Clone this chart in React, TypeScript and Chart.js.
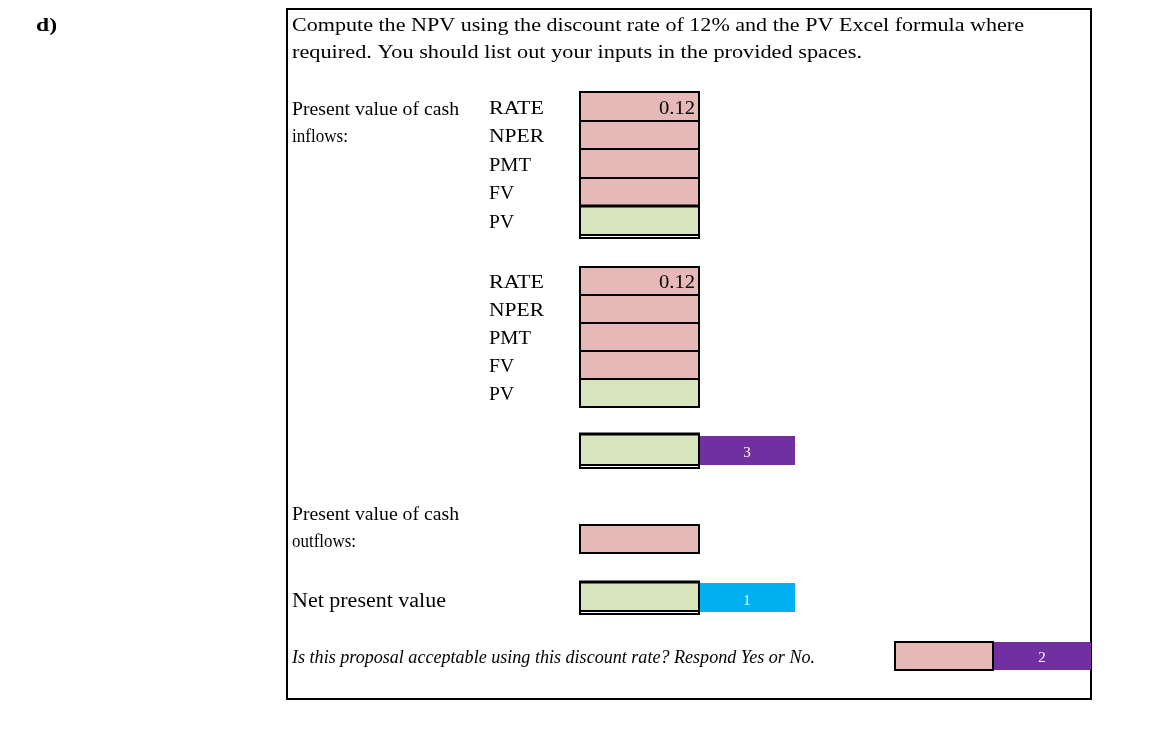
import React, { useEffect, useRef } from "react";
import { Chart, registerables } from "chart.js";

Chart.register(...registerables);

// ---------- content / data ----------
const sectionLabel = "d)";
const introLines = [
  "Compute the NPV using the discount rate of 12% and the PV Excel formula where",
  "required. You should list out your inputs in the provided spaces.",
];
const inflowLabel = ["Present value of cash", "inflows:"];
const outflowLabel = ["Present value of cash", "outflows:"];
const inputLabels = ["RATE", "NPER", "PMT", "FV", "PV"];
const rateValues = [0.12, 0.12];
const npvLabel = "Net present value";
const questionText = "Is this proposal acceptable using this discount rate? Respond Yes or No.";
const markValues = [3, 1, 2]; // total PV, NPV, answer

// ---------- layout (page pixels, mapped through the chart's scales) ----------
const PAGE_W = 1156;
const PAGE_H = 744;
const FRAME = [287, 9, 1091, 699];
const CELL_X = [580, 699];
const BLOCK1_ROWS = [92, 121, 149, 178, 206, 235];
const BLOCK2_ROWS = [267, 295, 323, 351, 379, 407];
const TOTAL_ROW = [434, 465];
const OUTFLOW_ROW = [525, 553];
const NPV_ROW = [582, 611];
const BADGE_X = [699, 795];
const ANSWER_X = [895, 993, 1091];
const ANSWER_Y = [642, 670];
const TEXT_X = 292;
const LABEL_X = 489;

const PINK = "#E6B8B7";
const GREEN = "#D8E4BC";
const PURPLE = "#7030A0";
const BLUE = "#00B0F0";
const SERIF = "'Liberation Serif', 'Times New Roman', serif";

const labelWidths: Record<string, number> = { RATE: 55, NPER: 55, PMT: 42, FV: 25, PV: 25 };

const formPlugin = {
  id: "formPlugin",
  afterDatasetsDraw(chart: any) {
    const ctx: CanvasRenderingContext2D = chart.ctx;
    const sx = chart.scales.x;
    const sy = chart.scales.y;
    const X = (v: number) => sx.getPixelForValue(v);
    const Y = (v: number) => sy.getPixelForValue(v);

    const text = (
      t: string,
      x: number,
      y: number,
      font: string,
      color = "#000",
      align: CanvasTextAlign = "left",
      targetW?: number
    ) => {
      ctx.save();
      ctx.font = font;
      const w = ctx.measureText(t).width;
      const s = targetW ? targetW / w : 1;
      ctx.translate(X(x), Y(y));
      ctx.scale(s, 1);
      ctx.textAlign = align;
      ctx.textBaseline = "alphabetic";
      ctx.fillStyle = color;
      ctx.fillText(t, 0, 0);
      ctx.restore();
    };
    const fill = (x0: number, y0: number, x1: number, y1: number, c: string) => {
      ctx.fillStyle = c;
      ctx.fillRect(X(x0), Y(y0), X(x1) - X(x0), Y(y1) - Y(y0));
    };
    const hline = (x0: number, x1: number, y: number, w = 2) => {
      ctx.fillStyle = "#000";
      ctx.fillRect(X(x0) - 1, Y(y) - w / 2, X(x1) - X(x0) + 2, w);
    };
    const vline = (x: number, y0: number, y1: number, w = 2) => {
      ctx.fillStyle = "#000";
      ctx.fillRect(X(x) - w / 2, Y(y0) - 1, w, Y(y1) - Y(y0) + 2);
    };
    const box = (x0: number, y0: number, x1: number, y1: number, c: string) => {
      fill(x0, y0, x1, y1, c);
      hline(x0, x1, y0);
      hline(x0, x1, y1);
      vline(x0, y0, y1);
      vline(x1, y0, y1);
    };

    // frame
    ctx.save();
    ctx.fillStyle = "#fff";
    ctx.fillRect(0, 0, chart.width, chart.height);
    ctx.restore();
    hline(FRAME[0], FRAME[2], FRAME[1]);
    hline(FRAME[0], FRAME[2], FRAME[3]);
    vline(FRAME[0], FRAME[1], FRAME[3]);
    vline(FRAME[2], FRAME[1], FRAME[3]);

    // section label
    text(sectionLabel, 36, 31, `bold 19px ${SERIF}`, "#000", "left", 21);

    // intro
    text(introLines[0], TEXT_X, 31, `19px ${SERIF}`, "#000", "left", 732);
    text(introLines[1], TEXT_X, 58, `19px ${SERIF}`, "#000", "left", 570);

    // inflow label
    text(inflowLabel[0], TEXT_X, 115, `18px ${SERIF}`, "#000", "left", 167);
    text(inflowLabel[1], TEXT_X, 142, `18px ${SERIF}`, "#000", "left", 56);

    // input blocks
    const drawBlock = (rows: number[], rate: number, emphasize: boolean) => {
      for (let i = 0; i < inputLabels.length; i++) {
        fill(CELL_X[0], rows[i], CELL_X[1], rows[i + 1], i < 4 ? PINK : GREEN);
      }
      for (let i = 1; i < rows.length - 1; i++) {
        hline(CELL_X[0], CELL_X[1], rows[i], emphasize && i === 4 ? 3 : 2);
      }
      hline(CELL_X[0], CELL_X[1], rows[0]);
      hline(CELL_X[0], CELL_X[1], rows[rows.length - 1]);
      if (emphasize) hline(CELL_X[0], CELL_X[1], rows[rows.length - 1] + 3, 2);
      vline(CELL_X[0], rows[0], rows[rows.length - 1] + (emphasize ? 3 : 0));
      vline(CELL_X[1], rows[0], rows[rows.length - 1] + (emphasize ? 3 : 0));
      inputLabels.forEach((lab, i) => {
        text(lab, LABEL_X, rows[i + 1] - 7, `18px ${SERIF}`, "#000", "left", labelWidths[lab]);
      });
      text(String(rate), CELL_X[1] - 4, rows[1] - 7, `18px ${SERIF}`, "#000", "right", 36);
    };
    drawBlock(BLOCK1_ROWS, rateValues[0], true);
    drawBlock(BLOCK2_ROWS, rateValues[1], false);

    // total PV row
    fill(CELL_X[0], TOTAL_ROW[0], CELL_X[1], TOTAL_ROW[1], GREEN);
    hline(CELL_X[0], CELL_X[1], TOTAL_ROW[0], 3);
    hline(CELL_X[0], CELL_X[1], TOTAL_ROW[1]);
    hline(CELL_X[0], CELL_X[1], TOTAL_ROW[1] + 3);
    vline(CELL_X[0], TOTAL_ROW[0], TOTAL_ROW[1] + 3);
    vline(CELL_X[1], TOTAL_ROW[0], TOTAL_ROW[1] + 3);
    fill(BADGE_X[0] + 1, TOTAL_ROW[0] + 2, BADGE_X[1], TOTAL_ROW[1], PURPLE);
    text(String(markValues[0]), (BADGE_X[0] + BADGE_X[1]) / 2, TOTAL_ROW[1] - 8, `15px ${SERIF}`, "#fff", "center");

    // outflows
    text(outflowLabel[0], TEXT_X, 520, `18px ${SERIF}`, "#000", "left", 167);
    text(outflowLabel[1], TEXT_X, 547, `18px ${SERIF}`, "#000", "left", 64);
    box(CELL_X[0], OUTFLOW_ROW[0], CELL_X[1], OUTFLOW_ROW[1], PINK);

    // NPV
    text(npvLabel, TEXT_X, 607, `20px ${SERIF}`, "#000", "left", 154);
    fill(CELL_X[0], NPV_ROW[0], CELL_X[1], NPV_ROW[1], GREEN);
    hline(CELL_X[0], CELL_X[1], NPV_ROW[0], 3);
    hline(CELL_X[0], CELL_X[1], NPV_ROW[1]);
    hline(CELL_X[0], CELL_X[1], NPV_ROW[1] + 3);
    vline(CELL_X[0], NPV_ROW[0], NPV_ROW[1] + 3);
    vline(CELL_X[1], NPV_ROW[0], NPV_ROW[1] + 3);
    fill(BADGE_X[0] + 1, NPV_ROW[0] + 1, BADGE_X[1], NPV_ROW[1] + 1, BLUE);
    text(String(markValues[1]), (BADGE_X[0] + BADGE_X[1]) / 2, NPV_ROW[1] - 6, `15px ${SERIF}`, "#fff", "center");

    // question
    text(questionText, TEXT_X, 663, `italic 18px ${SERIF}`, "#000", "left", 523);
    box(ANSWER_X[0], ANSWER_Y[0], ANSWER_X[1], ANSWER_Y[1], PINK);
    fill(ANSWER_X[1] + 1, ANSWER_Y[0], ANSWER_X[2], ANSWER_Y[1], PURPLE);
    text(String(markValues[2]), (ANSWER_X[1] + ANSWER_X[2]) / 2, ANSWER_Y[1] - 8, `15px ${SERIF}`, "#fff", "center");
  },
};

export default function App() {
  const ref = useRef<HTMLCanvasElement | null>(null);
  useEffect(() => {
    if (!ref.current) return;
    const chart = new Chart(ref.current, {
      type: "scatter",
      data: { datasets: [{ data: [], pointRadius: 0 }] },
      options: {
        animation: false,
        responsive: false,
        devicePixelRatio: 1,
        events: [],
        layout: { padding: 0 },
        plugins: { legend: { display: false }, tooltip: { enabled: false } },
        scales: {
          x: { type: "linear", min: 0, max: PAGE_W, display: false },
          y: { type: "linear", min: 0, max: PAGE_H, reverse: true, display: false },
        },
      },
      plugins: [formPlugin],
    } as any);
    return () => chart.destroy();
  }, []);
  return (
    <div style={{ position: "absolute", left: 0, top: 0, width: PAGE_W, height: PAGE_H, background: "#fff" }}>
      <canvas ref={ref} width={PAGE_W} height={PAGE_H} style={{ display: "block" }} />
    </div>
  );
}
